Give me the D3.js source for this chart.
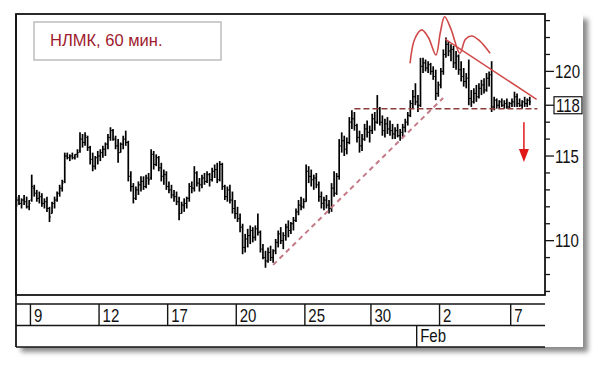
<!DOCTYPE html>
<html><head><meta charset="utf-8">
<script src="https://cdn.jsdelivr.net/npm/d3@7"></script>
<style>html,body{margin:0;padding:0;background:#fff;}svg{display:block;}</style>
</head><body>
<script>
// ---- data (60-min bars, NLMK) ----
const opens  = [112.3,112.4,112.2,112.4,112.3,112.0,112.4,113.1,112.8,112.5,112.6,112.2,112.3,111.9,111.6,112.2,112.4,112.8,113.1,113.5,115.0,114.9,115.0,114.9,115.1,115.3,116.0,115.8,116.1,115.5,114.8,114.4,114.9,115.0,115.2,115.4,115.7,116.1,116.5,116.0,115.6,115.2,115.7,116.0,115.8,113.8,113.2,112.5,113.0,113.3,113.5,113.2,113.7,113.7,115.1,114.5,114.9,114.3,113.8,113.9,113.2,113.0,112.7,112.6,112.3,111.6,112.1,112.2,112.5,113.2,113.1,114.0,113.4,113.3,113.7,113.5,113.9,113.6,114.1,114.2,113.6,114.5,113.2,112.6,113.0,112.4,111.9,111.6,111.3,110.8,109.6,110.1,110.3,110.6,110.2,110.7,110.5,109.5,109.0,108.8,109.3,109.0,109.4,109.9,110.4,110.0,110.3,110.8,110.6,111.0,111.2,111.7,112.1,112.0,112.3,114.1,113.8,113.6,113.7,113.3,112.6,112.2,112.4,112.1,111.9,113.1,112.8,113.8,115.6,115.9,115.4,115.8,117.0,117.2,116.8,116.1,115.6,116.0,116.6,116.4,116.5,117.2,117.0,117.8,117.0,116.5,116.9,116.6,116.5,116.3,116.5,116.2,116.4,116.7,117.0,117.4,118.1,118.5,118.2,118.0,120.3,120.5,120.2,120.4,120.0,119.7,118.7,119.2,120.0,121.0,121.6,121.2,121.3,120.5,120.9,120.1,119.7,119.4,119.6,118.4,118.2,118.7,118.5,119.0,119.2,118.9,119.6,119.8,117.9,118.3,118.0,118.2,118.0,118.1,117.9,118.1,118.2,118.5,118.1,118.0,118.2,118.1,118.3];
const highs  = [112.6,112.7,112.5,112.7,112.6,112.4,113.9,113.3,113.0,112.9,112.8,112.5,112.6,112.0,112.3,112.6,112.9,113.3,113.6,115.2,115.2,115.1,115.2,115.1,115.4,116.4,116.3,116.4,116.2,115.6,115.2,115.0,115.3,115.4,115.6,115.8,116.3,116.7,116.6,116.2,116.0,115.8,116.2,116.5,115.9,114.1,113.4,113.2,113.5,113.8,113.8,113.9,114.0,115.4,115.3,115.1,115.0,114.6,114.2,114.1,113.5,113.3,113.0,112.9,112.6,112.3,112.5,112.6,113.4,113.5,114.4,114.1,113.7,113.9,114.0,114.1,114.0,114.3,114.5,114.6,114.7,114.6,113.3,113.2,113.3,112.9,112.4,112.0,111.6,111.0,110.4,110.7,110.9,110.8,110.9,111.6,110.6,109.8,109.4,109.6,109.7,109.5,110.1,110.6,110.8,110.5,111.0,111.2,111.1,111.4,111.9,112.4,112.6,112.5,114.5,114.4,114.2,113.9,114.0,113.5,112.9,112.6,112.7,112.4,113.4,114.1,114.0,116.0,116.4,116.2,116.1,117.3,117.7,117.6,116.9,116.5,116.3,116.9,117.1,116.8,117.5,117.6,118.6,117.9,117.4,117.2,117.3,117.1,116.9,116.7,116.9,116.6,116.9,117.2,117.6,118.3,118.9,119.3,118.6,120.8,120.8,120.7,120.6,120.5,120.3,120.1,119.4,120.2,121.3,122.0,121.8,121.6,121.5,121.2,121.0,120.6,120.2,119.9,120.7,118.9,119.0,119.2,119.3,119.5,119.6,119.9,120.0,120.6,118.5,118.4,118.3,118.4,118.3,118.4,118.2,118.4,118.8,118.7,118.4,118.3,118.5,118.4,118.5];
const lows   = [112.0,112.1,111.9,112.1,111.9,111.8,112.3,112.6,112.3,112.2,112.0,111.9,111.7,111.1,111.6,111.9,112.3,112.6,112.9,113.4,114.8,114.7,114.8,114.8,114.9,115.2,115.5,115.6,115.3,114.5,114.1,114.2,114.5,114.7,114.9,115.0,115.4,115.9,115.9,115.4,114.6,115.2,115.4,115.6,113.5,112.9,112.2,112.4,112.7,112.9,113.0,113.1,113.3,113.6,114.2,114.4,114.1,113.5,113.3,113.0,112.8,112.5,112.3,112.1,111.2,111.6,111.7,111.9,112.3,112.8,112.9,113.2,112.9,113.1,113.3,113.4,113.2,113.5,113.7,113.4,113.5,113.0,112.4,112.3,112.2,111.6,111.3,111.1,110.5,109.2,109.3,109.6,109.8,109.9,110.0,110.3,109.3,108.9,108.4,108.7,108.8,108.7,109.2,109.6,109.8,109.5,110.0,110.2,110.4,110.6,111.1,111.5,111.8,111.9,112.3,113.4,113.2,113.0,113.1,112.3,111.9,111.8,111.9,111.6,111.7,112.6,112.7,113.6,115.2,115.0,115.1,115.7,116.6,116.5,115.8,115.2,115.3,115.9,116.1,115.8,116.3,116.5,116.9,116.8,116.2,116.1,116.3,116.2,116.0,116.0,116.1,115.9,116.1,116.4,116.8,117.3,117.8,118.0,117.6,117.9,119.9,120.0,119.9,119.8,119.5,118.3,118.5,119.0,119.8,120.8,120.9,120.6,120.2,120.1,119.8,119.4,119.1,119.0,118.0,117.9,118.1,118.2,118.4,118.6,118.7,118.8,119.1,117.6,117.7,117.8,117.8,117.9,117.8,117.8,117.8,117.9,117.9,117.9,117.9,117.8,117.9,117.9,118.0];
const closes = [112.4,112.2,112.4,112.3,112.0,112.2,113.2,112.8,112.5,112.6,112.2,112.3,111.9,111.4,112.2,112.4,112.8,113.1,113.4,115.0,114.9,115.0,114.9,115.1,115.2,116.0,115.8,116.2,115.5,114.8,114.4,114.9,115.0,115.2,115.4,115.7,116.1,116.5,116.0,115.6,115.2,115.7,116.0,115.8,113.8,113.2,112.5,113.0,113.3,113.5,113.2,113.7,113.6,115.1,114.5,114.9,114.3,113.8,113.9,113.2,113.0,112.7,112.6,112.3,111.6,112.1,112.2,112.5,113.2,113.1,114.0,113.4,113.3,113.7,113.5,113.9,113.6,114.1,114.2,113.6,114.5,113.2,112.6,113.0,112.4,111.9,111.6,111.3,110.8,109.6,110.1,110.3,110.6,110.2,110.7,110.5,109.5,109.0,108.8,109.3,109.0,109.4,109.9,110.4,110.0,110.3,110.8,110.6,111.0,111.2,111.7,112.1,112.0,112.3,114.1,113.8,113.6,113.7,113.3,112.6,112.2,112.4,112.1,111.9,113.1,112.8,113.8,115.6,115.9,115.4,115.8,117.0,117.2,116.8,116.1,115.6,116.0,116.6,116.4,116.5,117.2,117.0,117.8,117.0,116.5,116.9,116.6,116.5,116.3,116.5,116.2,116.4,116.7,117.0,117.4,118.1,118.5,118.2,118.0,120.3,120.5,120.2,120.4,120.0,119.7,118.7,119.2,120.0,121.0,121.6,121.2,121.3,120.5,120.9,120.1,119.7,119.4,119.6,118.4,118.2,118.7,118.5,119.0,119.2,118.9,119.6,119.8,117.9,118.3,118.0,118.2,118.0,118.1,117.9,118.1,118.2,118.5,118.1,118.0,118.2,118.1,118.3,118.2];

const dayStarts   = [6, 33, 60, 87, 114, 140, 167, 195];
const dayLabels   = ["9", "12", "17", "20", "25", "30", "2", "7"];
const monthStarts = [158];
const monthLabels = ["Feb"];
const yTickValues = [107,108,109,110,111,112,113,114,115,116,117,118,119,120,121,122,123];
const yLabelValues = [110, 115, 120];
const lastPrice = 118;
const title = "НЛМК, 60 мин.";

// annotations (bar index, price)
const necklinePts   = [[133.5, 117.8], [205.5, 117.8]];
const supportPts    = [[101.5, 108.57], [168.4, 118.43]];
const resistancePts = [[169.2, 121.9], [205.2, 118.35]];
const hsCurvePts    = [[155.4, 120.48], [157.2, 121.9], [160.0, 122.45], [162.6, 122.0], [165.6, 120.97], [167.3, 122.3], [169.0, 123.23], [171.5, 122.5], [175.0, 121.07], [177.2, 121.9], [179.7, 122.09], [182.8, 121.8], [186.9, 121.07]];
const arrowPts      = [[200.2, 117.0], [200.2, 114.65]];

// ---- layout ----
const W = 600, H = 365;
const L = 16, R = 545, T = 14, B = 295;
const font = "'Liberation Sans', Arial, sans-serif";

const svg = d3.select("body").append("svg").attr("width", W).attr("height", H);
const defs = svg.append("defs");
const f = defs.append("filter").attr("id", "sh").attr("x", "-5%").attr("y", "-5%").attr("width", "110%").attr("height", "110%");
f.append("feGaussianBlur").attr("stdDeviation", 2.5);

// panel + shadow
svg.append("rect").attr("x", L + 5).attr("y", T + 5).attr("width", 583 - L).attr("height", 347 - T)
  .attr("fill", "#8a8a8a").attr("filter", "url(#sh)");
svg.append("rect").attr("x", L).attr("y", T).attr("width", 583 - L).attr("height", 347 - T).attr("fill", "#fff");

const x = d3.scaleLinear().domain([0, 208.5]).range([15.2, R]);
const y = d3.scaleLinear().domain([106.79, 123.39]).range([B, T]);

function stretchText(g, px, py, txt, size, sy, fill, anchor) {
  return g.append("text").attr("transform", `translate(${px},${py}) scale(1,${sy})`)
    .attr("font-family", font).attr("font-size", size).attr("fill", fill || "#111")
    .attr("text-anchor", anchor || "start").text(txt);
}

// title box
svg.append("rect").attr("x", 34).attr("y", 22).attr("width", 187).attr("height", 38)
  .attr("fill", "#fff").attr("stroke", "#bdbdbd").attr("stroke-width", 1.5);
svg.append("text").attr("x", 50).attr("y", 46).attr("font-family", font).attr("font-size", 16.5)
  .attr("fill", "#9e1a2e").text(title);

// bars
const bars = svg.append("g").attr("stroke", "#000");
const n = highs.length;
for (let i = 0; i < n; i++) {
  const cx = x(i + 0.5);
  bars.append("line").attr("x1", cx).attr("x2", cx).attr("y1", y(highs[i])).attr("y2", y(lows[i])).attr("stroke-width", 1.7);
  bars.append("line").attr("x1", cx - 1.3).attr("x2", cx).attr("y1", y(opens[i])).attr("y2", y(opens[i])).attr("stroke-width", 1);
  bars.append("line").attr("x1", cx).attr("x2", cx + 1.3).attr("y1", y(closes[i])).attr("y2", y(closes[i])).attr("stroke-width", 1);
}

const line = d3.line().x(d => x(d[0])).y(d => y(d[1]));
// neckline
svg.append("path").attr("d", line(necklinePts)).attr("fill", "none").attr("stroke", "#8e3b3b")
  .attr("stroke-width", 1.5).attr("stroke-dasharray", "6,3");
// rising support
svg.append("path").attr("d", line(supportPts)).attr("fill", "none").attr("stroke", "#c47a88")
  .attr("stroke-width", 2).attr("stroke-dasharray", "5,4");
// resistance
svg.append("path").attr("d", line(resistancePts)).attr("fill", "none").attr("stroke", "#d04a4a").attr("stroke-width", 1.5);
// head & shoulders curve
svg.append("path").attr("d", line.curve(d3.curveCatmullRom)(hsCurvePts)).attr("fill", "none")
  .attr("stroke", "#d04a4a").attr("stroke-width", 1.6);
line.curve(d3.curveLinear);
// arrow
const ax = x(arrowPts[0][0]), ay0 = y(arrowPts[0][1]), ay1 = y(arrowPts[1][1]);
svg.append("line").attr("x1", ax).attr("x2", ax).attr("y1", ay0).attr("y2", ay1 - 10).attr("stroke", "#e01818").attr("stroke-width", 1.5);
svg.append("path").attr("d", `M${ax - 5},${ay1 - 13}L${ax + 5},${ay1 - 13}L${ax},${ay1}Z`).attr("fill", "#e01818");

// plot frame
svg.append("rect").attr("x", L).attr("y", T).attr("width", R - L).attr("height", B - T)
  .attr("fill", "none").attr("stroke", "#151515").attr("stroke-width", 1.8);

// right axis
const ax2 = svg.append("g");
yTickValues.forEach(v => {
  const major = yLabelValues.includes(v) || v === lastPrice;
  ax2.append("line").attr("x1", R).attr("x2", R + (major ? 9 : 5)).attr("y1", y(v)).attr("y2", y(v))
    .attr("stroke", "#151515").attr("stroke-width", 1.3);
});
yLabelValues.forEach(v => stretchText(ax2, 555, y(v) + 6.6, String(v), 15, 1.22));
ax2.append("rect").attr("x", 554).attr("y", y(lastPrice) - 8.5).attr("width", 28).attr("height", 17)
  .attr("fill", "#fff").attr("stroke", "#151515").attr("stroke-width", 1.2);
stretchText(ax2, 556, y(lastPrice) + 6.4, String(lastPrice), 15, 1.18);

// date axis
const r1 = 304, r2 = 325.5, r3 = 347;
const da = svg.append("g").attr("stroke", "#151515");
[r1, r2, r3].forEach(yy => da.append("line").attr("x1", L).attr("x2", R).attr("y1", yy).attr("y2", yy).attr("stroke-width", 1.5));
da.append("line").attr("x1", L).attr("x2", L).attr("y1", T).attr("y2", r3).attr("stroke-width", 1.8);
dayStarts.forEach(d => da.append("line").attr("x1", x(d)).attr("x2", x(d)).attr("y1", r1).attr("y2", r2).attr("stroke-width", 1.4));
monthStarts.forEach(d => da.append("line").attr("x1", x(d)).attr("x2", x(d)).attr("y1", r2).attr("y2", r3).attr("stroke-width", 1.4));
const dt = svg.append("g");
dayStarts.forEach((d, i) => stretchText(dt, x(d) + 3.5, 321.5, dayLabels[i], 15, 1.25));
monthStarts.forEach((d, i) => stretchText(dt, x(d) + 3.5, 342, monthLabels[i], 15, 1.25));
</script>
</body></html>
